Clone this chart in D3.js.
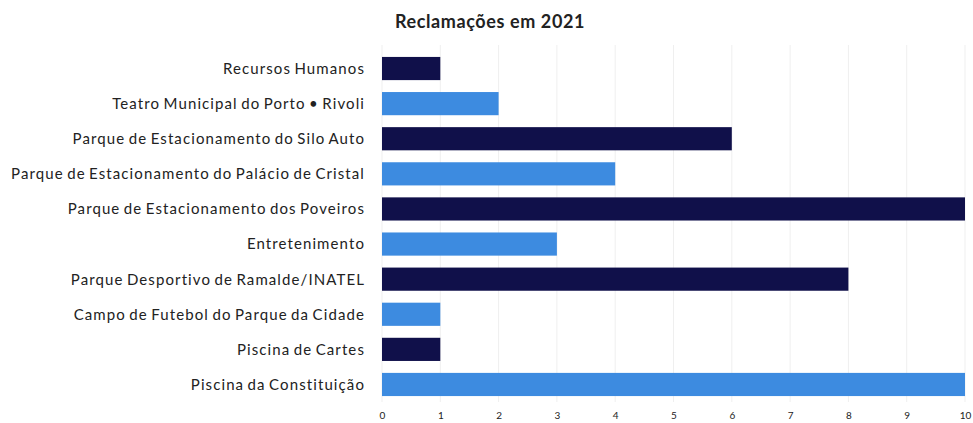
<!DOCTYPE html>
<html><head><meta charset="utf-8">
<script src="https://cdn.jsdelivr.net/npm/d3@7"></script>
<style>body{margin:0;background:#fff}svg{display:block}text{font-family:Lato,"Open Sans",sans-serif}</style>
</head><body>
<svg id="c" width="973" height="423"></svg>
<script>
const categories = ["Recursos Humanos","Teatro Municipal do Porto • Rivoli","Parque de Estacionamento do Silo Auto","Parque de Estacionamento do Palácio de Cristal","Parque de Estacionamento dos Poveiros","Entretenimento","Parque Desportivo de Ramalde/INATEL","Campo de Futebol do Parque da Cidade","Piscina de Cartes","Piscina da Constituição"];
const values = [1,2,6,4,10,3,8,1,1,10];
const tickValues = [0,1,2,3,4,5,6,7,8,9,10];
const title = "Reclamações em 2021";
const colors = ["#10104a","#3d8be0"];

const svg = d3.select("#c");
const x = d3.scaleLinear().domain([0,10]).range([382,965]);
const y = d3.scaleBand().domain(categories).range([45,408]).paddingInner(0.34).paddingOuter(0.34);

svg.append("g").selectAll("line").data(tickValues).join("line")
  .attr("x1",d=>x(d)).attr("x2",d=>x(d)).attr("y1",45).attr("y2",402)
  .attr("stroke","#efefef").attr("stroke-width",1);

svg.append("g").selectAll("rect").data(values).join("rect")
  .attr("x",x(0)).attr("y",(d,i)=>y(categories[i]))
  .attr("width",d=>x(d)-x(0)).attr("height",y.bandwidth())
  .attr("fill",(d,i)=>colors[i%2]);

svg.append("g").selectAll("text").data(categories).join("text")
  .attr("x",365).attr("y",d=>y(d)+y.bandwidth()/2).attr("dy","0.36em")
  .attr("text-anchor","end").attr("font-size",15).attr("letter-spacing","1.1px").attr("word-spacing","-1.5px")
  .attr("fill","#222").text(d=>d);

const ax = svg.append("g").attr("transform","translate(0,403)")
  .call(d3.axisBottom(x).tickValues(tickValues).tickSize(0).tickPadding(9).tickFormat(d3.format("d")));
ax.select(".domain").remove();
ax.selectAll("text").attr("font-size",10).attr("fill","#222").style("font-family","Lato,sans-serif");

svg.append("text").attr("x",490).attr("y",28).attr("text-anchor","middle")
  .attr("font-size",18).attr("font-weight","bold").attr("letter-spacing","0.6px")
  .attr("fill","#222").text(title);
</script>
</body></html>
